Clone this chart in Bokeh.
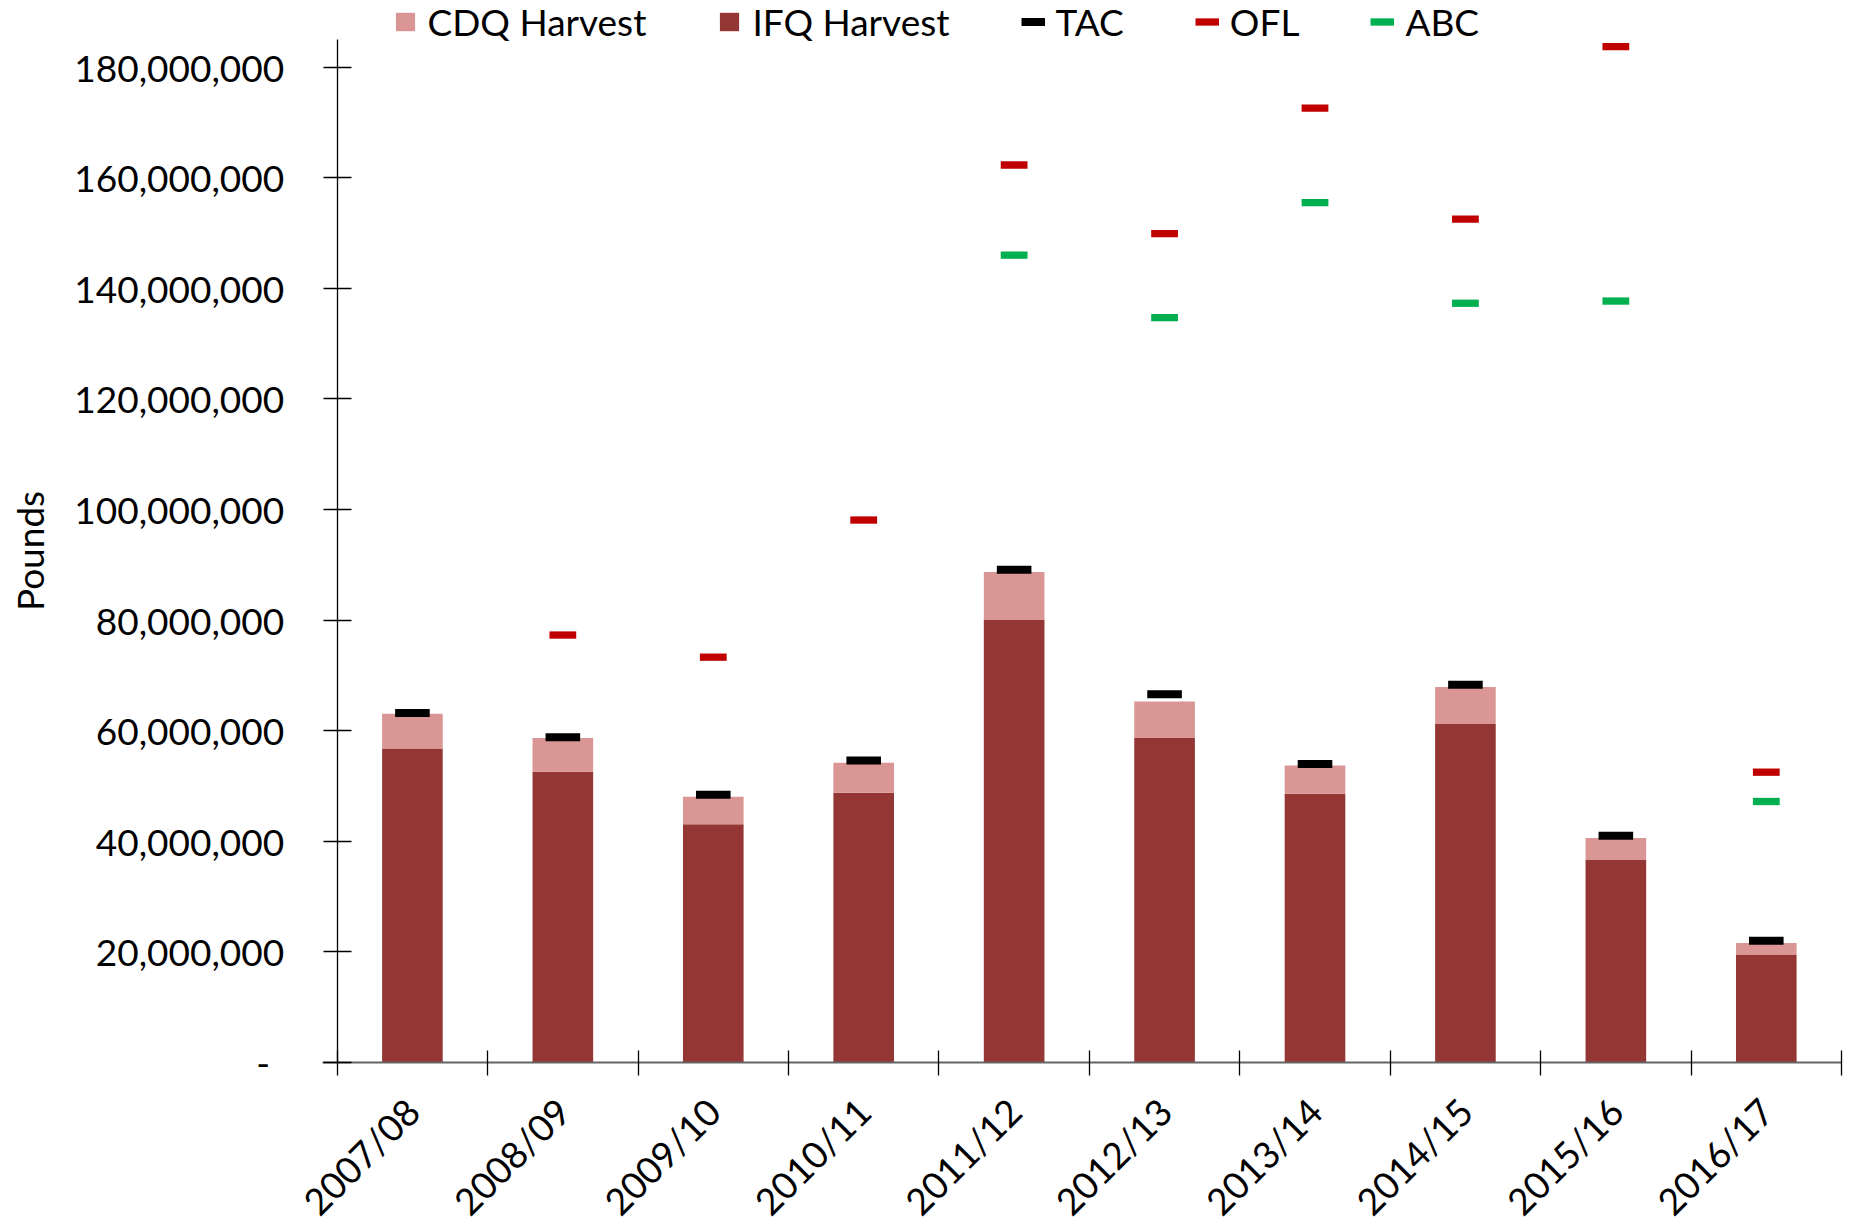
import math
from bokeh.plotting import figure
from bokeh.models import (Range1d, LinearAxis, FixedTicker, NumeralTickFormatter,
                          ColumnDataSource, Legend, LegendItem)
from bokeh.embed import file_html
from bokeh.resources import INLINE

# ---------------- data (pounds) ----------------
seasons = ["2007/08", "2008/09", "2009/10", "2010/11", "2011/12",
           "2012/13", "2013/14", "2014/15", "2015/16", "2016/17"]
ifq_harvest = [56.8e6, 52.6e6, 43.1e6, 48.8e6, 80.1e6, 58.7e6, 48.6e6, 61.2e6, 36.7e6, 19.55e6]
cdq_harvest = [6.25e6, 6.1e6, 4.95e6, 5.4e6, 8.6e6, 6.6e6, 5.1e6, 6.7e6, 3.9e6, 2.05e6]
tac = [63.2e6, 58.8e6, 48.4e6, 54.6e6, 89.1e6, 66.6e6, 54.0e6, 68.3e6, 41.0e6, 22.0e6]
ofl = [None, 77.3e6, 73.3e6, 98.1e6, 162.3e6, 149.9e6, 172.6e6, 152.5e6, 183.7e6, 52.5e6]
abc = [None, None, None, None, 146.0e6, 134.7e6, 155.5e6, 137.3e6, 137.7e6, 47.2e6]
y_ticks = [0, 20e6, 40e6, 60e6, 80e6, 100e6, 120e6, 140e6, 160e6, 180e6]
y_axis_max = 185e6

FONT = "Lato"
FS = "37px"

# category slots: season i occupies [i, i+1] on the x scale, centred at i + 0.5
n = len(seasons)
slot_centres = [i + 0.5 for i in range(n)]
slot_edges = list(range(n + 1))

# layout plan (pixels). The plot frame covers the whole canvas so that nothing
# (legend, rotated labels) is clipped; the axes are pinned at x = 0 and y = 0.
W, H = 1852, 1227
AXIS_LEFT_PX, AXIS_RIGHT_PX = 336.7, 1841
AXIS_TOP_PX, AXIS_ZERO_PX = 39, 1062
slot_px = (AXIS_RIGHT_PX - AXIS_LEFT_PX) / n
x_start = -AXIS_LEFT_PX / slot_px
x_end = n + (W - AXIS_RIGHT_PX) / slot_px
units_per_px = y_axis_max / (AXIS_ZERO_PX - AXIS_TOP_PX)
y_end = y_axis_max + AXIS_TOP_PX * units_per_px
y_start = -(H - AXIS_ZERO_PX) * units_per_px

p = figure(x_range=Range1d(x_start, x_end), y_range=Range1d(y_start, y_end),
           width=W, height=H, output_backend="svg", toolbar_location=None,
           title=None, x_axis_type=None,
           min_border_left=0, min_border_right=0, min_border_top=0, min_border_bottom=0)
p.outline_line_color = None
p.grid.grid_line_color = None
p.background_fill_color = "white"
p.border_fill_color = "white"

# ---------------- y axis (pinned at x = 0) ----------------
ya = p.yaxis[0]
ya.fixed_location = 0
ya.bounds = (0, y_axis_max)
ya.ticker = FixedTicker(ticks=y_ticks)
ya.formatter = NumeralTickFormatter(format="0,0")
ya.major_label_overrides = {0: "-\u00a0\u2009"}
ya.axis_line_color = "black"
ya.axis_line_width = 1.3
ya.major_tick_line_color = "black"
ya.major_tick_line_width = 1.3
ya.major_tick_in = 14
ya.major_tick_out = 14
ya.minor_tick_line_color = None
ya.major_label_standoff = 39
ya.major_label_text_font = FONT
ya.major_label_text_font_size = FS
ya.major_label_text_color = "black"
ya.axis_label = "Pounds"
ya.axis_label_text_font = FONT
ya.axis_label_text_font_size = FS
ya.axis_label_text_font_style = "normal"
ya.axis_label_text_color = "black"
ya.axis_label_standoff = 20

# ---------------- x axis at y = 0: tick marks between categories ----------------
tick_axis = LinearAxis(ticker=FixedTicker(ticks=slot_edges),
                       bounds=(-0.1, n), fixed_location=0,
                       axis_line_color="#646464", axis_line_width=2.2,
                       major_tick_line_color="black", major_tick_line_width=1.3,
                       major_tick_in=12, major_tick_out=13,
                       minor_tick_line_color=None,
                       major_label_text_color=None,
                       major_label_text_font_size="0px", major_label_standoff=0)
# season labels under the slot centres, rotated 45 degrees
label_axis = LinearAxis(ticker=FixedTicker(ticks=slot_centres), fixed_location=0,
                        major_label_overrides={c: s for c, s in zip(slot_centres, seasons)},
                        axis_line_color=None, major_tick_line_color=None,
                        major_tick_in=0, major_tick_out=0,
                        minor_tick_line_color=None,
                        major_label_orientation=math.pi / 4,
                        major_label_standoff=42,
                        major_label_text_font=FONT, major_label_text_font_size=FS,
                        major_label_text_color="black")
p.add_layout(tick_axis, "below")
p.add_layout(label_axis, "below")

# ---------------- bars ----------------
src = ColumnDataSource(dict(x=slot_centres, season=seasons, ifq=ifq_harvest, cdq=cdq_harvest))
bars = p.vbar_stack(["ifq", "cdq"], x="x", width=0.403, source=src,
                    fill_color=["#943634", "#D99694"], line_color=None)


# ---------------- dash markers ----------------
def dash_source(vals, half):
    idx = [i for i, v in enumerate(vals) if v is not None]
    return ColumnDataSource(dict(
        season=[seasons[i] for i in idx],
        x0=[slot_centres[i] - half for i in idx],
        x1=[slot_centres[i] + half for i in idx],
        y=[vals[i] for i in idx]))


tac_r = p.segment(x0="x0", y0="y", x1="x1", y1="y", source=dash_source(tac, 0.115),
                  line_color="black", line_width=8, line_cap="butt")
ofl_r = p.segment(x0="x0", y0="y", x1="x1", y1="y", source=dash_source(ofl, 0.089),
                  line_color="#C00000", line_width=7.3, line_cap="butt")
abc_r = p.segment(x0="x0", y0="y", x1="x1", y1="y", source=dash_source(abc, 0.089),
                  line_color="#00B050", line_width=7.3, line_cap="butt")

legend = Legend(items=[LegendItem(label="CDQ Harvest", renderers=[bars[1]]),
                       LegendItem(label="IFQ Harvest", renderers=[bars[0]]),
                       LegendItem(label="TAC", renderers=[tac_r]),
                       LegendItem(label="OFL", renderers=[ofl_r]),
                       LegendItem(label="ABC", renderers=[abc_r])],
                orientation="horizontal",
                location=(392.5, H + 2.5 - 53 + 7),
                glyph_width=24, glyph_height=23, label_standoff=11, spacing=71,
                padding=0, margin=0, border_line_color=None, background_fill_alpha=0,
                label_text_font=FONT, label_text_font_size=FS, label_text_color="black")
p.add_layout(legend, "center")

open("out.html", "w").write(file_html(p, INLINE))
